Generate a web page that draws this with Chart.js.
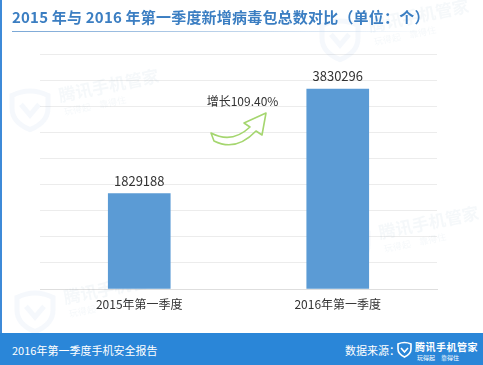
<!DOCTYPE html>
<html>
<head>
<meta charset="utf-8">
<script src="https://cdn.jsdelivr.net/npm/chart.js@4"></script>
<style>
  body { margin: 0; background: #fff; }
  #wrap { position: relative; width: 483px; height: 365px; overflow: hidden; font-family: "Noto Sans CJK SC", "Noto Sans", sans-serif; }
  #chart { position: absolute; left: 0; top: 0; }
  #title { position: absolute; left: 12px; top: 6px; font-size: 15px; font-weight: bold; color: #3b7ec2; white-space: nowrap; letter-spacing: 0.2px; }
  #rule { position: absolute; left: 12px; top: 31px; width: 420px; height: 1px; background: linear-gradient(to right, #7aa7d6, #c9dbee 60%, rgba(255,255,255,0)); }
  #edge { position: absolute; left: 0; top: 0; width: 2px; height: 333px; background: #3d8ad8; }
  #foot { position: absolute; left: 0; top: 333px; width: 483px; height: 32px; background: #2a86d8; color: #fff; white-space: nowrap; }
  #foot .l { position: absolute; left: 12px; top: 9px; font-size: 11px; }
  #foot .r { position: absolute; left: 345px; top: 9px; font-size: 11px; }
  #foot .b { position: absolute; left: 415px; top: 6px; font-size: 10px; font-weight: bold; letter-spacing: 0.5px; }
  #foot .s { position: absolute; left: 417px; top: 20px; font-size: 6px; }
  #foot svg { position: absolute; left: 396px; top: 8px; }
</style>
</head>
<body>
<div id="wrap">
  <canvas id="chart" width="483" height="333"></canvas>
  <div id="edge"></div>
  <div id="title">2015 年与 2016 年第一季度新增病毒包总数对比（单位：个）</div>
  <div id="rule"></div>
  <div id="foot">
    <span class="l">2016年第一季度手机安全报告</span>
    <span class="r">数据来源：</span>
    <svg width="17" height="17" viewBox="0 0 17 17"><path d="M2 3 Q8.5 0 15 3 L15 8 Q15 13 8.5 16 Q2 13 2 8 Z" fill="none" stroke="#fff" stroke-width="1.6"/><path d="M5 7 L8.5 11 L12 7" fill="none" stroke="#fff" stroke-width="1.6"/></svg>
    <span class="b">腾讯手机管家</span>
    <span class="s">玩得起　靠得住</span>
  </div>
</div>
<script>
const categories = ['2015年第一季度', '2016年第一季度']
const virusCounts = [1829188, 3830296]
const growthLabel = '增长109.40%'
const yMax = 4500000
const yStep = 500000

const BAR_COLOR = '#5b9bd5'
const GRID = '#ececec'
const TEXT = '#333333'
const FONT = '"Noto Sans CJK SC", "Noto Sans", sans-serif'

// faint logo watermarks behind the chart
const watermarks = [
  { x: 30, y: 108 }, { x: 35, y: 310 }, { x: 340, y: 38 }, { x: 350, y: 245 },
]

function drawShield(ctx, x, y, s) {
  ctx.beginPath()
  ctx.moveTo(x - s, y - s * 0.7)
  ctx.quadraticCurveTo(x, y - s * 1.2, x + s, y - s * 0.7)
  ctx.lineTo(x + s, y)
  ctx.quadraticCurveTo(x + s, y + s * 0.8, x, y + s * 1.2)
  ctx.quadraticCurveTo(x - s, y + s * 0.8, x - s, y)
  ctx.closePath()
  ctx.stroke()
  ctx.beginPath()
  ctx.moveTo(x - s * 0.5, y - s * 0.2)
  ctx.lineTo(x, y + s * 0.4)
  ctx.lineTo(x + s * 0.5, y - s * 0.2)
  ctx.stroke()
}

const decor = {
  id: 'decor',
  beforeDatasetsDraw(chart) {
    const ctx = chart.ctx
    ctx.save()
    ctx.strokeStyle = 'rgba(120,160,210,0.07)'
    ctx.fillStyle = 'rgba(120,150,190,0.07)'
    ctx.lineWidth = 5
    watermarks.forEach((w) => {
      drawShield(ctx, w.x, w.y, 18)
      ctx.save()
      ctx.translate(w.x + 30, w.y - 6)
      ctx.rotate(-0.2)
      ctx.font = 'bold 17px ' + FONT
      ctx.fillText('腾讯手机管家', 0, 0)
      ctx.font = '9px ' + FONT
      ctx.fillText('玩得起　靠得住', 2, 14)
      ctx.restore()
    })
    ctx.restore()
  },
  afterDatasetsDraw(chart) {
    const ctx = chart.ctx
    const meta = chart.getDatasetMeta(0)
    ctx.save()
    ctx.fillStyle = TEXT
    ctx.font = '13px ' + FONT
    ctx.textAlign = 'center'
    ctx.textBaseline = 'bottom'
    meta.data.forEach((bar, i) => {
      ctx.fillText(String(virusCounts[i]), bar.x, bar.y - 6)
    })
    // growth note and arrow between the bars
    const mid = (meta.data[0].x + meta.data[1].x) / 2
    ctx.font = '12px ' + FONT
    ctx.fillText(growthLabel, mid + 4, 107)
    ctx.strokeStyle = '#a5d66f'
    ctx.lineWidth = 1.6
    ctx.lineJoin = 'round'
    ctx.beginPath()
    ctx.moveTo(211, 133)
    ctx.quadraticCurveTo(232, 144, 250, 127)
    ctx.lineTo(244, 123)
    ctx.lineTo(266, 113)
    ctx.lineTo(262, 135)
    ctx.lineTo(256, 131)
    ctx.quadraticCurveTo(236, 152, 214, 141)
    ctx.closePath()
    ctx.stroke()
    ctx.restore()
  },
}

new Chart(document.getElementById('chart'), {
  type: 'bar',
  data: {
    labels: categories,
    datasets: [{
      data: virusCounts,
      backgroundColor: BAR_COLOR,
      barThickness: 62,
    }],
  },
  options: {
    responsive: false,
    animation: false,
    layout: { padding: { left: 40, right: 46, top: 54, bottom: 0 } },
    plugins: { legend: { display: false }, tooltip: { enabled: false } },
    scales: {
      x: {
        grid: { display: false },
        border: { color: '#dedede' },
        ticks: { color: TEXT, font: { family: FONT, size: 12 }, padding: 0 },
        afterFit: (s) => { s.height = 44 },
      },
      y: {
        min: 0,
        max: yMax,
        ticks: { display: false, stepSize: yStep },
        grid: { color: GRID, drawTicks: false },
        border: { display: false },
        afterFit: (s) => { s.width = 0 },
      },
    },
  },
  plugins: [decor],
})
</script>
</body>
</html>
